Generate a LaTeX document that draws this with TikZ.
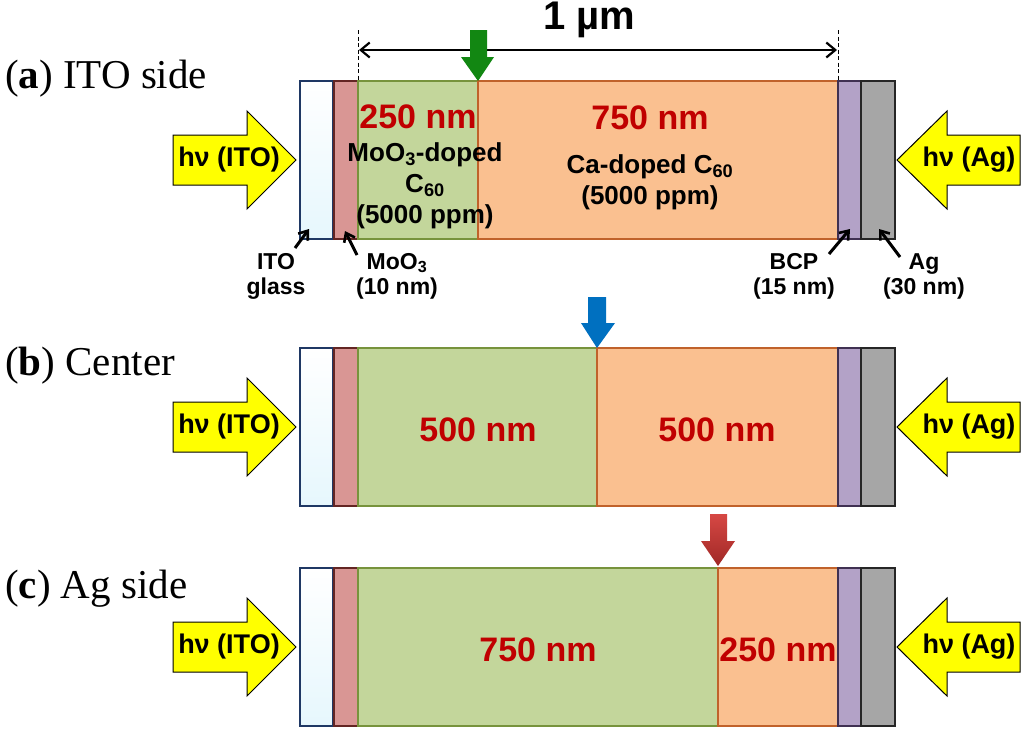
\documentclass[tikz,border=0pt]{standalone}
\usepackage{fontspec}
\setmainfont{Liberation Serif}
\setsansfont{Liberation Sans}
\usetikzlibrary{arrows.meta}
\definecolor{itoB}{RGB}{31,56,100}
\definecolor{itoF}{RGB}{230,247,253}
\definecolor{mooF}{RGB}{217,150,148}
\definecolor{mooB}{RGB}{99,37,35}
\definecolor{grnF}{RGB}{195,214,155}
\definecolor{grnB}{RGB}{119,147,60}
\definecolor{orgF}{RGB}{250,192,144}
\definecolor{orgB}{RGB}{192,98,43}
\definecolor{bcpF}{RGB}{179,162,199}
\definecolor{bcpB}{RGB}{64,49,82}
\definecolor{agF}{RGB}{166,166,166}
\definecolor{agB}{RGB}{38,38,38}
\definecolor{nmred}{RGB}{192,0,0}
\definecolor{arrG}{RGB}{18,135,18}
\definecolor{arrB}{RGB}{0,112,192}
\definecolor{arrRt}{RGB}{214,72,68}
\definecolor{arrRb}{RGB}{160,40,38}
\definecolor{yel}{RGB}{255,255,0}
\tikzset{
  layer/.style={anchor=north west, minimum height=158pt, inner sep=0pt, line width=1.2pt, outer sep=0pt},
  itolayer/.style={layer, draw=itoB, top color=white, bottom color=itoF, minimum width=33pt},
  moolayer/.style={layer, draw=mooB, fill=mooF, minimum width=24pt},
  grnlayer/.style={layer, draw=grnB, fill=grnF},
  orglayer/.style={layer, draw=orgB, fill=orgF},
  bcplayer/.style={layer, draw=bcpB, fill=bcpF, minimum width=23pt},
  aglayer/.style={layer, draw=agB, fill=agF, minimum width=34pt},
  nm/.style={font=\sffamily\bfseries\fontsize{34}{36}\selectfont, text=nmred, inner sep=0pt},
  desc/.style={font=\sffamily\bfseries\fontsize{26}{31}\selectfont, align=center, inner sep=0pt},
  small/.style={font=\sffamily\bfseries\fontsize{23}{25}\selectfont, align=center, inner sep=0pt},
  hv/.style={font=\sffamily\bfseries\fontsize{27}{29}\selectfont, inner sep=0pt},
  panel/.style={font=\rmfamily\fontsize{41}{44}\selectfont, anchor=base west, inner sep=0pt},
  yarrow/.style={draw=black, line width=1pt, fill=yel},
  ptr/.style={-{Straight Barb[length=8pt,width=12pt,line width=2.6pt]}, line width=3pt},
}
\begin{document}
\begin{tikzpicture}[x=1pt,y=-1pt]
\useasboundingbox (0,0) rectangle (1024,731);
\fill[white] (0,0) rectangle (1024,731);

% ---------- panel labels
\node[panel] (la) at (5,88) {(\textbf{a}) ITO side};
\node[panel] (lb) at (5,375) {(\textbf{b}) Center};
\node[panel] (lc) at (5,598) {(\textbf{c}) Ag side};

% ---------- stacks
\foreach \p/\y/\g in {a/81/120, b/348/239, c/568/360}{
  \node[itolayer] (\p-ito) at (300,\y) {};
  \node[moolayer] (\p-moo) at (334,\y) {};
  \node[grnlayer, minimum width=\g pt] (\p-grn) at (358,\y) {};
  \pgfmathsetmacro\ox{358+\g}
  \pgfmathsetmacro\ow{480-\g}
  \node[orglayer, minimum width=\ow pt] (\p-org) at (\ox,\y) {};
  \node[bcplayer] (\p-bcp) at (838,\y) {};
  \node[aglayer] (\p-ag) at (861,\y) {};
}

% ---------- yellow light arrows
\foreach \p/\c in {a/160, b/427, c/647}{
  \draw[yarrow] (173,\c-25) -- (247,\c-25) -- (247,\c-49) -- (296,\c) -- (247,\c+49) -- (247,\c+25) -- (173,\c+25) -- cycle;
  \node[hv] (\p-hvito) at (229,\c) {hν (ITO)};
  \draw[yarrow] (1020,\c-25) -- (947,\c-25) -- (947,\c-49) -- (897,\c) -- (947,\c+49) -- (947,\c+25) -- (1020,\c+25) -- cycle;
  \node[hv] (\p-hvag) at (969,\c) {hν (Ag)};
}

% ---------- panel (a) texts
\node[nm] (a-n1) at (418,117) {250 nm};
\node[desc] (a-d1) at (425,186) {MoO\textsubscript{3}-doped\\ C\textsubscript{60}\\ (5000 ppm)};
\node[nm] (a-n2) at (650,118) {750 nm};
\node[desc] (a-d2) at (650,182) {Ca-doped C\textsubscript{60}\\ (5000 ppm)};

% bottom labels
\node[small] (l-ito) at (276,276) {ITO\\ glass};
\node[small] (l-moo) at (397,276) {MoO\textsubscript{3}\\ (10 nm)};
\node[small] (l-bcp) at (794,276) {BCP\\ (15 nm)};
\node[small] (l-ag) at (924,276) {Ag\\ (30 nm)};
\coordinate (t-ito) at (309,229);
\coordinate (t-moo) at (345,231);
\coordinate (t-bcp) at (850,229);
\coordinate (t-ag) at (879,229);
\draw[ptr] (295,248) -- (t-ito);
\draw[ptr] (357,255) -- (t-moo);
\draw[ptr] (829,254) -- (t-bcp);
\draw[ptr] (900,257) -- (t-ag);

% dimension line
\coordinate (dL) at (358,30);
\coordinate (dR) at (838,30);
\draw[dash pattern=on 4pt off 2.5pt, line width=1pt] (dL) -- (a-grn.north west);
\draw[dash pattern=on 4pt off 2.5pt, line width=1pt] (dR) -- (a-bcp.north west);
\draw[{Straight Barb[length=9pt,width=15pt,line width=2.2pt]}-{Straight Barb[length=9pt,width=15pt,line width=2.2pt]}, line width=2.5pt] (359,50) -- (837,50);
\node[font=\sffamily\bfseries\fontsize{40}{42}\selectfont, inner sep=0pt] (um) at (589,20) {1 µm};

% ---------- down arrows
\fill[arrG] (470,30) -- (487,30) -- (487,57) -- (494,57) -- (478,81) -- (461,57) -- (470,57) -- cycle;
\fill[arrB] (588,297) -- (606,297) -- (606,323) -- (615,323) -- (597,348) -- (581,323) -- (588,323) -- cycle;
\shade[top color=arrRt, bottom color=arrRb] (710,514) -- (727,514) -- (727,541) -- (735,541) -- (718,566) -- (701,541) -- (710,541) -- cycle;

% ---------- panel (b) texts
\node[nm] (b-n1) at (478,430) {500 nm};
\node[nm] (b-n2) at (717,430) {500 nm};

% ---------- panel (c) texts
\node[nm] (c-n1) at (538,650) {750 nm};
\node[nm] (c-n2) at (778,650) {250 nm};
\end{tikzpicture}
\end{document}
